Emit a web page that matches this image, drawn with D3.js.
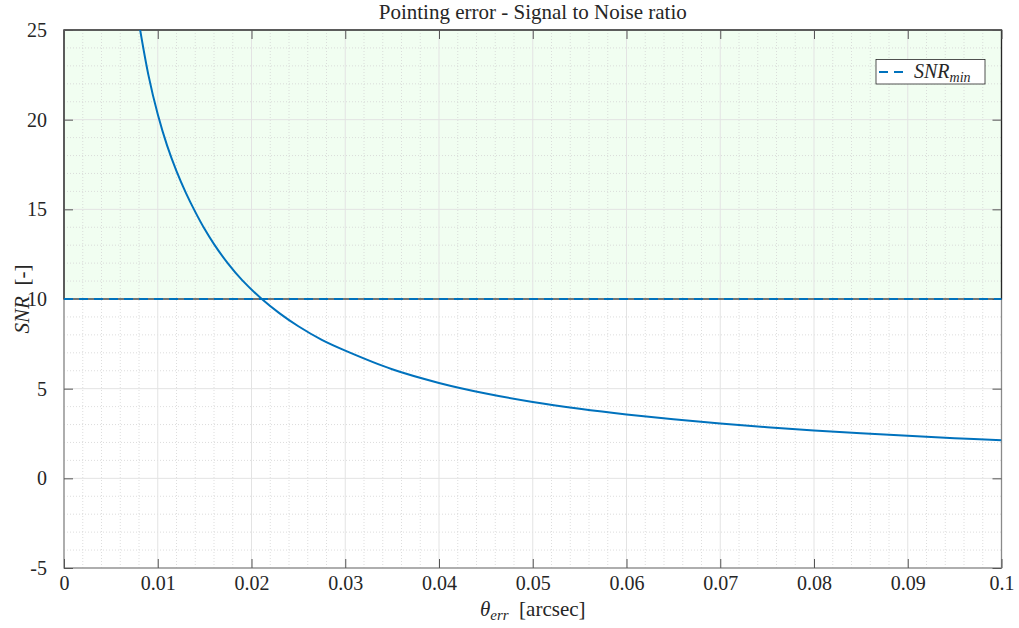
<!DOCTYPE html>
<html>
<head>
<meta charset="utf-8">
<script src="https://cdn.jsdelivr.net/npm/d3@7"></script>
<style>
  html, body { margin: 0; padding: 0; background: #fff; }
</style>
</head>
<body>
<svg id="chart" width="1019" height="628"></svg>
<script>
// Pointing error (arcsec) and resulting signal-to-noise ratio
const thetaErr = [0.0078, 0.0090, 0.0100, 0.0110, 0.0120, 0.0130, 0.0140, 0.0150,
                  0.0160, 0.0175, 0.0190, 0.0211, 0.0230, 0.0250, 0.0275, 0.0300,
                  0.0350, 0.0400, 0.0450, 0.0500, 0.0550, 0.0600, 0.0650, 0.0700,
                  0.0750, 0.0800, 0.0850, 0.0900, 0.0950, 0.1000];
const snr      = [26.0, 22.5, 20.3, 18.55, 17.13, 15.92, 14.86, 13.9,
                  13.06, 11.97, 11.05, 10.0, 9.2, 8.48, 7.72, 7.12,
                  6.08, 5.32, 4.73, 4.26, 3.88, 3.56, 3.29, 3.06,
                  2.85, 2.67, 2.51, 2.37, 2.24, 2.12];

// Minimum acceptable SNR and the acceptable band above it
const snrMin = 10;
const bandTop = 25;

const xTicks = [0, 0.01, 0.02, 0.03, 0.04, 0.05, 0.06, 0.07, 0.08, 0.09, 0.1];
const xTickLabels = ["0", "0.01", "0.02", "0.03", "0.04", "0.05", "0.06", "0.07", "0.08", "0.09", "0.1"];
const yTicks = [-5, 0, 5, 10, 15, 20, 25];
const yTickLabels = ["-5", "0", "5", "10", "15", "20", "25"];

const xDomain = [0, 0.1];
const yDomain = [-5, 25];

const FONT = "'Liberation Serif', 'DejaVu Serif', serif";
const INK = "#262626";

const svg = d3.select("#chart");
const m = { left: 64, right: 1001.5, top: 30, bottom: 568 };
const x = d3.scaleLinear().domain(xDomain).range([m.left, m.right]);
const y = d3.scaleLinear().domain(yDomain).range([m.bottom, m.top]);

const blue = "#0072BD";

svg.append("defs").append("clipPath").attr("id", "plotClip")
  .append("rect").attr("x", m.left).attr("y", m.top)
  .attr("width", m.right - m.left).attr("height", m.bottom - m.top);

// Acceptable region fill
svg.append("rect")
  .attr("x", x(xDomain[0])).attr("y", y(bandTop))
  .attr("width", x(xDomain[1]) - x(xDomain[0]))
  .attr("height", y(snrMin) - y(bandTop))
  .attr("fill", "#f1fef1");

// Minor grid (dotted)
const xMinor = d3.range(0, 0.1001, 0.002).filter(v => Math.abs(v * 100 - Math.round(v * 100)) > 1e-6);
const yMinor = d3.range(-5, 25.001, 1).filter(v => v % 5 !== 0);
const grid = svg.append("g");
grid.selectAll("line.xm").data(xMinor).join("line")
  .attr("x1", d => x(d)).attr("x2", d => x(d)).attr("y1", m.top).attr("y2", m.bottom)
  .attr("stroke", "#d4d4d4").attr("stroke-width", 0.8).attr("stroke-dasharray", "1,2");
grid.selectAll("line.ym").data(yMinor).join("line")
  .attr("y1", d => y(d)).attr("y2", d => y(d)).attr("x1", m.left).attr("x2", m.right)
  .attr("stroke", "#d4d4d4").attr("stroke-width", 0.8).attr("stroke-dasharray", "1,2");
// Major grid (solid, light)
grid.selectAll("line.xM").data(xTicks).join("line")
  .attr("x1", d => x(d)).attr("x2", d => x(d)).attr("y1", m.top).attr("y2", m.bottom)
  .attr("stroke", "#e3e3e3").attr("stroke-width", 1);
grid.selectAll("line.yM").data(yTicks).join("line")
  .attr("y1", d => y(d)).attr("y2", d => y(d)).attr("x1", m.left).attr("x2", m.right)
  .attr("stroke", "#e3e3e3").attr("stroke-width", 1);

// Axes box (gray)
svg.append("rect").attr("x", m.left).attr("y", m.top)
  .attr("width", m.right - m.left).attr("height", m.bottom - m.top)
  .attr("fill", "none").attr("stroke", "#8a8a8a").attr("stroke-width", 1.3);

// Band outline
svg.append("rect")
  .attr("x", x(xDomain[0])).attr("y", y(bandTop))
  .attr("width", x(xDomain[1]) - x(xDomain[0]))
  .attr("height", y(snrMin) - y(bandTop))
  .attr("fill", "none").attr("stroke", INK).attr("stroke-width", 1.2);

// Axes with inward ticks on all four sides
const tickLen = 9;
const fmtX = (d, i) => xTickLabels[i];
const fmtY = (d, i) => yTickLabels[i];
const axB = svg.append("g").attr("transform", `translate(0,${m.bottom})`)
  .call(d3.axisBottom(x).tickValues(xTicks).tickFormat(fmtX).tickSizeInner(-tickLen).tickSizeOuter(0).tickPadding(8));
const axT = svg.append("g").attr("transform", `translate(0,${m.top})`)
  .call(d3.axisTop(x).tickValues(xTicks).tickFormat("").tickSizeInner(-tickLen).tickSizeOuter(0));
const axL = svg.append("g").attr("transform", `translate(${m.left},0)`)
  .call(d3.axisLeft(y).tickValues(yTicks).tickFormat(fmtY).tickSizeInner(-tickLen).tickSizeOuter(0).tickPadding(17));
const axR = svg.append("g").attr("transform", `translate(${m.right},0)`)
  .call(d3.axisRight(y).tickValues(yTicks).tickFormat("").tickSizeInner(-tickLen).tickSizeOuter(0));
[axB, axT, axL, axR].forEach(a => {
  a.attr("font-family", FONT).attr("font-size", 20);
  a.select(".domain").remove();
  a.selectAll(".tick line").attr("stroke", "#555").attr("stroke-width", 1);
  a.selectAll(".tick text").attr("fill", INK);
});

// SNR_min dashed line
svg.append("line")
  .attr("x1", x(xDomain[0])).attr("x2", x(xDomain[1]))
  .attr("y1", y(snrMin)).attr("y2", y(snrMin))
  .attr("stroke", blue).attr("stroke-width", 2).attr("stroke-dasharray", "9,6");

// SNR curve
const pts = thetaErr.map((t, i) => [t, snr[i]]);
svg.append("path").datum(pts)
  .attr("clip-path", "url(#plotClip)")
  .attr("fill", "none").attr("stroke", blue).attr("stroke-width", 2)
  .attr("d", d3.line().x(d => x(d[0])).y(d => y(d[1])).curve(d3.curveCatmullRom.alpha(0.5)));

// Title
svg.append("text").attr("x", (m.left + m.right) / 2).attr("y", 19)
  .attr("text-anchor", "middle").attr("font-size", 21)
  .attr("font-family", FONT).attr("fill", INK)
  .text("Pointing error - Signal to Noise ratio");

// X label
const xl = svg.append("text").attr("x", (m.left + m.right) / 2).attr("y", 616)
  .attr("text-anchor", "middle").attr("font-size", 21)
  .attr("font-family", FONT).attr("fill", INK);
xl.append("tspan").attr("font-style", "italic").text("θ");
xl.append("tspan").attr("font-style", "italic").attr("font-size", 15).attr("dy", 4).text("err");
xl.append("tspan").attr("dy", -4).text("\u00a0\u00a0[arcsec]");

// Y label
const yl = svg.append("text").attr("transform", `translate(29,${(m.top + m.bottom) / 2}) rotate(-90)`)
  .attr("text-anchor", "middle").attr("font-size", 21)
  .attr("font-family", FONT).attr("fill", INK);
yl.append("tspan").attr("font-style", "italic").text("SNR");
yl.append("tspan").text("\u00a0\u00a0[-]");

// Legend
const lg = svg.append("g");
lg.append("rect").attr("x", 876).attr("y", 59.5).attr("width", 109).attr("height", 24.5)
  .attr("fill", "#fff").attr("stroke", INK).attr("stroke-width", 0.8);
lg.append("line").attr("x1", 879).attr("x2", 908).attr("y1", 72).attr("y2", 72)
  .attr("stroke", blue).attr("stroke-width", 2).attr("stroke-dasharray", "9,6");
const lt = lg.append("text").attr("x", 914).attr("y", 78).attr("font-size", 20)
  .attr("font-family", FONT).attr("fill", INK);
lt.append("tspan").attr("font-style", "italic").text("SNR");
lt.append("tspan").attr("font-style", "italic").attr("font-size", 14).attr("dy", 4).text("min");
</script>
</body>
</html>
